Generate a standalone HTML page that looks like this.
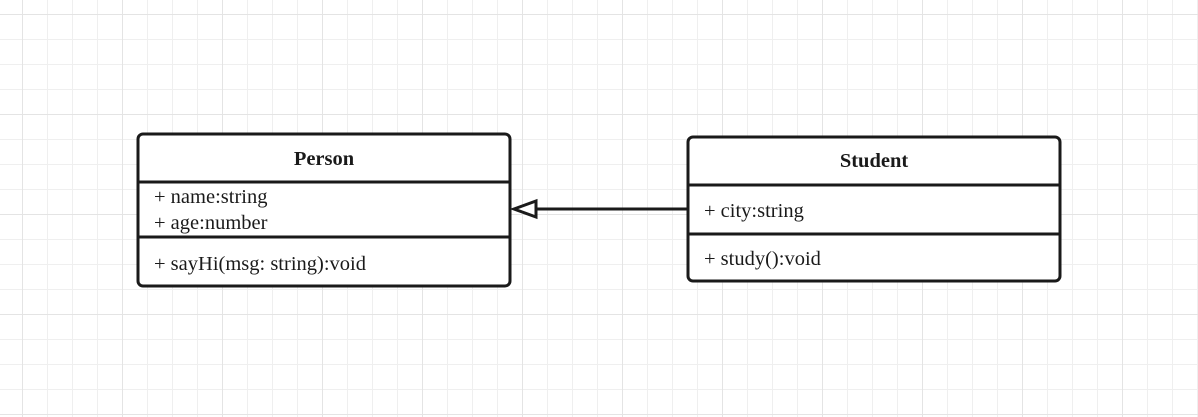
<!DOCTYPE html>
<html><head><style>html,body{margin:0;padding:0;background:#fff}svg{display:block}text{font-family:"Liberation Serif","Times New Roman",serif}</style></head>
<body>
<svg width="1198" height="417" xmlns="http://www.w3.org/2000/svg">
<defs>
<pattern id="g" x="22" y="14" width="25" height="25" patternUnits="userSpaceOnUse">
<path d="M0 0V25M0 0H25" stroke="#efefef" stroke-width="2" fill="none"/>
</pattern>
<pattern id="G" x="22" y="14" width="100" height="100" patternUnits="userSpaceOnUse">
<path d="M0 0V100M0 0H100" stroke="#e4e4e4" stroke-width="2" fill="none"/>
</pattern>
</defs>
<rect width="1198" height="417" fill="url(#g)"/>
<rect width="1198" height="417" fill="url(#G)"/>
<g fill="#1a1a1a">
<rect x="138" y="134" width="372" height="152" rx="5" fill="#fff" stroke="#1a1a1a" stroke-width="3"/>
<line x1="138" y1="182" x2="510" y2="182" stroke="#1a1a1a" stroke-width="3"/>
<line x1="138" y1="237" x2="510" y2="237" stroke="#1a1a1a" stroke-width="3"/>
<text x="324" y="165" font-size="20.5" font-weight="bold" text-anchor="middle">Person</text>
<text x="154" y="203" font-size="20.5">+ name:string</text>
<text x="154" y="229" font-size="20.5">+ age:number</text>
<text x="154" y="270" font-size="20.5">+ sayHi(msg: string):void</text>

<rect x="688" y="137" width="372" height="144" rx="5" fill="#fff" stroke="#1a1a1a" stroke-width="3"/>
<line x1="688" y1="185" x2="1060" y2="185" stroke="#1a1a1a" stroke-width="3"/>
<line x1="688" y1="234" x2="1060" y2="234" stroke="#1a1a1a" stroke-width="3"/>
<text x="874" y="167" font-size="20.5" font-weight="bold" text-anchor="middle">Student</text>
<text x="704" y="217" font-size="20.5">+ city:string</text>
<text x="704" y="265" font-size="20.5">+ study():void</text>

<line x1="536" y1="209" x2="688" y2="209" stroke="#1a1a1a" stroke-width="3"/>
<polygon points="514,209 536,201 536,217" fill="#fff" stroke="#1a1a1a" stroke-width="3"/>
</g>
</svg>
</body></html>
